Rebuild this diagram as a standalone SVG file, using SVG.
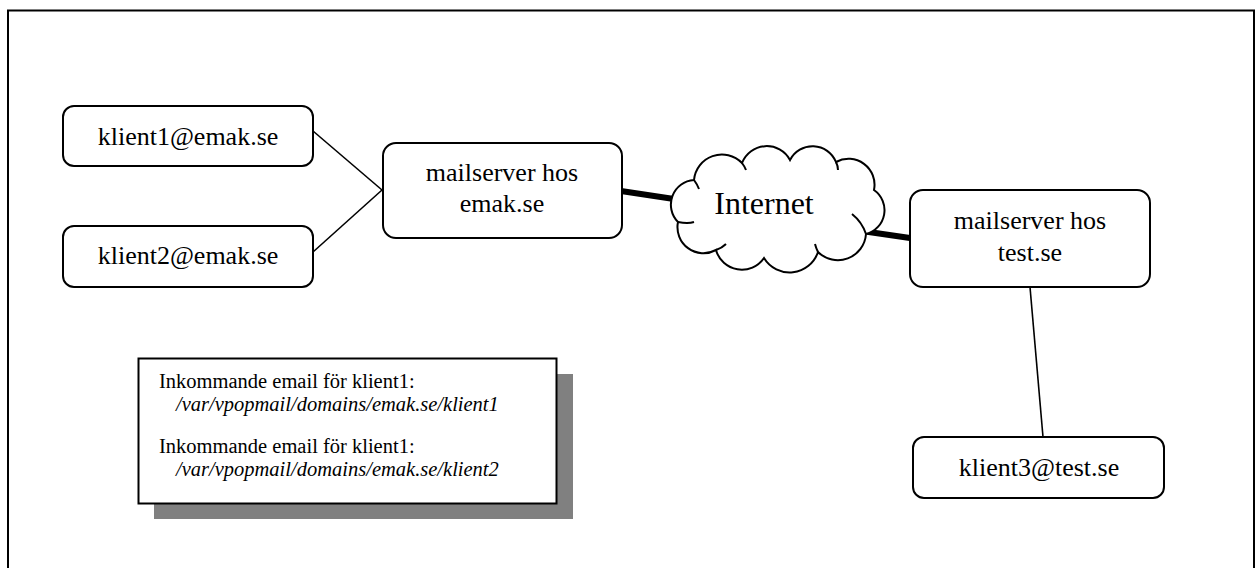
<svg xmlns="http://www.w3.org/2000/svg" width="1256" height="568" viewBox="0 0 1256 568">
<style>
.node{fill:#fff;stroke:#000;stroke-width:2}
.lbl{font-family:"Liberation Serif","Times New Roman",serif;font-size:26px;fill:#000;text-anchor:middle}
.thin{stroke:#000;stroke-width:1.6;fill:none}
.thick{stroke:#000;stroke-width:6;fill:none}
.desc{font-family:"Liberation Serif","Times New Roman",serif;font-size:20.5px;fill:#000}
.it{font-style:italic}
</style>
<rect x="0" y="0" width="1256" height="568" fill="#fff"/>
<rect x="8" y="10.5" width="1246" height="570" fill="none" stroke="#000" stroke-width="2"/>
<g id="connectors">
<line class="thin" x1="313" y1="131" x2="382" y2="190"/>
<line class="thin" x1="313" y1="252" x2="382" y2="190"/>
<line class="thick" x1="621" y1="191" x2="674" y2="199"/>
<line class="thick" x1="855" y1="230" x2="910" y2="238"/>
<line class="thin" x1="1030" y1="287" x2="1043" y2="437"/>
</g>
<g id="klient1">
<rect class="node" x="63" y="106" width="250" height="60" rx="11"/>
<text class="lbl" x="188" y="145">klient1@emak.se</text>
</g>
<g id="klient2">
<rect class="node" x="63" y="226" width="250" height="61" rx="11"/>
<text class="lbl" x="188" y="264">klient2@emak.se</text>
</g>
<g id="mailserver-emak">
<rect class="node" x="383" y="143" width="239" height="95" rx="13"/>
<text class="lbl" x="502" y="181">mailserver hos</text>
<text class="lbl" x="502" y="212">emak.se</text>
</g>
<g id="internet">
<path fill="#fff" stroke="#000" stroke-width="2" d="M678,222 A24.7,24.7 0 0 1 694,180 A28,28 0 0 1 742,163 A26.5,26.5 0 0 1 790,160 A25.3,25.3 0 0 1 836,162 A26,26 0 0 1 874,190 A24.6,24.6 0 0 1 866,234 A28.2,28.2 0 0 1 818,252 A29.9,29.9 0 0 1 764,258 A26.8,26.8 0 0 1 716,250 A26,26 0 0 1 678,222 Z"/>
<path fill="none" stroke="#000" stroke-width="2" d="M678,222 Q688,224 694,222 M694,180 Q697,184 699,189 M742,163 Q745,167 746,170 M836,162 Q838,166 838,170 M866,234 Q862,222 852,214 M818,252 Q816,248 815,244 M716,250 Q722,248 726,244"/>
<text x="764" y="214" font-family="Liberation Serif, Times New Roman, serif" font-size="32" text-anchor="middle">Internet</text>
</g>
<g id="mailserver-test">
<rect class="node" x="910" y="190" width="240" height="97" rx="13"/>
<text class="lbl" x="1030" y="229">mailserver hos</text>
<text class="lbl" x="1030" y="261">test.se</text>
</g>
<g id="klient3">
<rect class="node" x="913" y="437" width="251" height="61" rx="11"/>
<text class="lbl" x="1039" y="476">klient3@test.se</text>
</g>
<g id="note">
<rect x="154" y="374" width="419" height="145" fill="#808080"/>
<rect x="138.5" y="358.5" width="418" height="145" fill="#fff" stroke="#000" stroke-width="2"/>
<text class="desc" x="159" y="388">Inkommande email för klient1:</text>
<text class="desc it" x="176" y="411">/var/vpopmail/domains/emak.se/klient1</text>
<text class="desc" x="159" y="453">Inkommande email för klient1:</text>
<text class="desc it" x="176" y="476">/var/vpopmail/domains/emak.se/klient2</text>
</g>
</svg>
